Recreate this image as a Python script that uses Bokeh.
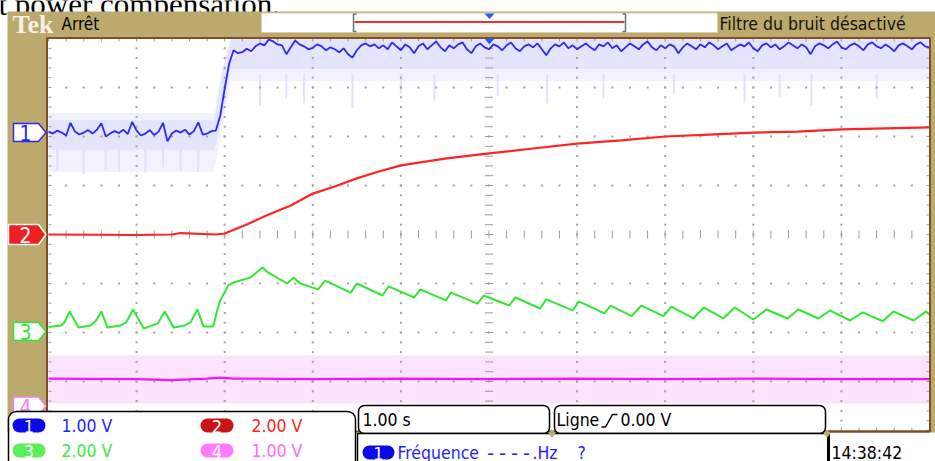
import numpy as np
from bokeh.plotting import figure
from bokeh.models import Range1d
from bokeh.core.properties import value
from bokeh.embed import file_html
from bokeh.resources import INLINE

# ---------------- values ----------------
channels = ["1", "2", "3", "4"]
volts_per_div = [1.0, 2.0, 2.0, 1.0]
offset_div = [2.08, 0.0, -2.0, -3.5]
scale_labels = ["1.00 V", "2.00 V", "2.00 V", "1.00 V"]
sec_per_div = 1.0
time_label = "1.00 s"
trigger_label = "0.00 V"
status_label = "Arrêt"
filter_label = "Filtre du bruit désactivé"
freq_label = "Fréquence"
freq_value = "----"
freq_unit = ".Hz"
clock_label = "14:38:42"
caption_label = "t power compensation."

# CH1 (blue), one reading every 0.05 s from -5 s to +5 s, volts
ch1_v = [
    0.02, -0.02, 0.04, 0.00, -0.06, 0.20, 0.02, -0.04, 0.00, 0.05, -0.02, 0.06, 0.19, -0.08, -0.02, 0.03, -0.01, 0.06, -0.03, 0.22,
    0.04, -0.06, -0.02, 0.05, -0.05, 0.02, 0.20, -0.18, -0.02, 0.04, 0.00, 0.06, -0.04, 0.03, 0.21, -0.04, -0.02, 0.03, 0.04, 0.35,
    0.90, 1.40, 1.68, 1.62, 1.64, 1.71, 1.66, 1.76, 1.82, 1.78, 1.90, 1.86, 1.80, 1.78, 1.60, 1.74, 1.88, 1.80, 1.76, 1.70,
    1.73, 1.80, 1.76, 1.68, 1.74, 1.70, 1.64, 1.72, 1.60, 1.53, 1.68, 1.78, 1.82, 1.76, 1.80, 1.72, 1.78, 1.70, 1.84, 1.76,
    1.68, 1.80, 1.74, 1.62, 1.76, 1.82, 1.70, 1.78, 1.86, 1.74, 1.66, 1.78, 1.72, 1.80, 1.84, 1.70, 1.62, 1.76, 1.82, 1.74,
    1.70, 1.80, 1.76, 1.68, 1.78, 1.84, 1.72, 1.66, 1.76, 1.80, 1.74, 1.82, 1.70, 1.58, 1.72, 1.80, 1.76, 1.84, 1.72, 1.78,
    1.70, 1.76, 1.82, 1.74, 1.68, 1.80, 1.76, 1.84, 1.72, 1.78, 1.66, 1.74, 1.82, 1.76, 1.70, 1.80, 1.86, 1.74, 1.68, 1.78,
    1.72, 1.80, 1.76, 1.62, 1.74, 1.82, 1.76, 1.70, 1.80, 1.74, 1.84, 1.78, 1.70, 1.76, 1.82, 1.68, 1.74, 1.80, 1.76, 1.84,
    1.72, 1.66, 1.78, 1.82, 1.74, 1.80, 1.70, 1.76, 1.84, 1.78, 1.72, 1.80, 1.74, 1.60, 1.76, 1.82, 1.78, 1.72, 1.80, 1.86,
    1.74, 1.70, 1.78, 1.82, 1.76, 1.68, 1.80, 1.84, 1.76, 1.72, 1.80, 1.74, 1.66, 1.78, 1.82, 1.76, 1.70, 1.80, 1.84, 1.76,
    1.74,
]
# CH1 persistence envelope (volts): a dense core and faint outer streaks
ch1_env_t = [-5.0, -3.12, -3.03, -2.93, 5.0]
ch1_env_lo = [-0.80, -0.80, 0.10, 1.05, 1.05]
ch1_env_hi = [0.40, 0.40, 1.30, 1.92, 1.92]
ch1_core_lo = [-0.35, -0.35, 0.30, 1.30, 1.30]
ch1_core_hi = [0.25, 0.25, 1.20, 1.92, 1.92]
ch1_spike_t = [-4.9, -4.6, -4.35, -4.2, -3.9, -3.7, -3.5, -3.3,
               -2.6, -2.3, -2.1, -1.55, -1.0, -0.62, 0.1, 0.66, 1.3, 2.1, 2.9, 3.3, 3.66, 4.4]
ch1_spike_lo = [-0.78, -0.85, -0.75, -0.80, -0.82, -0.70, -0.78, -0.80,
                0.55, 0.70, 0.60, 0.50, 0.80, 0.65, 0.75, 0.60, 0.70, 0.80, 0.60, 0.72, 0.55, 0.70]

# CH2 (red), volts
ch2_t = [-5.0, -4.0, -3.6, -3.5, -3.1, -3.0, -2.75, -2.5, -2.25, -2.0, -1.75, -1.5, -1.25, -1.0, -0.5, 0.0,
         0.5, 1.0, 1.5, 2.0, 2.5, 3.0, 3.5, 4.0, 4.5, 5.0]
ch2_v = [0.0, -0.02, 0.0, 0.06, 0.0, 0.04, 0.41, 0.82, 1.18, 1.67, 1.96, 2.29, 2.57, 2.82, 3.10, 3.31,
         3.51, 3.71, 3.84, 4.00, 4.08, 4.16, 4.20, 4.29, 4.33, 4.37]

# CH3 (green), volts at the turning points of the trace
ch3_t = [-5.00, -4.86, -4.82, -4.76, -4.66, -4.52, -4.46, -4.40, -4.33, -4.18, -4.12, -4.04, -3.92, -3.76, -3.68,
         -3.58, -3.45, -3.39, -3.31, -3.24, -3.13, -3.08, -3.05, -2.96, -2.90, -2.71, -2.57, -2.51, -2.29, -2.22,
         -2.14, -1.94, -1.86, -1.57, -1.50, -1.21, -1.14, -0.85, -0.78, -0.49, -0.43, -0.13, -0.06, 0.23, 0.30,
         0.58, 0.65, 0.95, 1.02, 1.31, 1.38, 1.62, 1.73, 1.98, 2.07, 2.32, 2.44, 2.66, 2.79, 3.00, 3.15, 3.39,
         3.51, 3.74, 3.87, 4.10, 4.24, 4.47, 4.59, 4.82, 4.96, 5.00]
ch3_v = [0.22, 0.29, 0.41, 0.86, 0.20, 0.29, 0.49, 0.86, 0.20, 0.29, 0.41, 0.94, 0.16, 0.37, 0.86,
         0.20, 0.29, 0.41, 0.94, 0.24, 0.24, 0.98, 1.31, 1.92, 2.04, 2.24, 2.65, 2.45, 2.00, 2.24,
         2.00, 1.76, 2.12, 1.63, 2.00, 1.51, 1.88, 1.43, 1.76, 1.31, 1.63, 1.18, 1.51, 1.10, 1.43,
         0.98, 1.35, 0.90, 1.27, 0.78, 1.10, 0.67, 1.10, 0.67, 1.06, 0.58, 1.02, 0.58, 1.02, 0.53, 0.94, 0.57,
         0.94, 0.57, 0.90, 0.49, 0.82, 0.46, 0.86, 0.49, 0.86, 0.73]

# CH4 (magenta), volts
ch4_t = [-5.0, -4.0, -3.6, -3.2, -3.05, -2.9, -2.0, -1.0, 0.0, 1.0, 2.0, 3.0, 4.0, 5.0]
ch4_v = [0.56, 0.55, 0.53, 0.56, 0.58, 0.56, 0.55, 0.56, 0.55, 0.56, 0.55, 0.56, 0.55, 0.55]
ch4_env_lo = 0.05
ch4_env_hi = 1.03

# ---------------- layout (pixels of the 935 x 461 screen) ----------------
W, H = 935, 461
GX0, GX1, GY0, GY1 = 48.0, 929.0, 38.0, 430.0
DX = (GX1 - GX0) / 10.0
DY = (GY1 - GY0) / 8.0
XC = (GX0 + GX1) / 2.0
YC = (GY0 + GY1) / 2.0


def X(px):
    return (px - XC) / DX * sec_per_div


def Y(py):
    return (YC - py) / DY


def to_div(ch, volts):
    return [offset_div[ch] + v / volts_per_div[ch] for v in volts]


TAN = "#BCA96C"
BROWN = "#7C4F24"
BLUE, RED, GREEN, PINK = "#2B2BF2", "#FF2424", "#33E633", "#F218F2"
UI_FONT = "DejaVu Sans Condensed"

p = figure(width=W, height=H, x_range=Range1d(X(0), X(W)), y_range=Range1d(Y(H), Y(0)),
           output_backend="svg", toolbar_location=None, min_border=0,
           x_axis_location=None, y_axis_location=None)
p.grid.visible = False
p.outline_line_color = None
p.background_fill_color = "white"
p.border_fill_color = "white"


def T(x, y, s, size=17, color="black", font=UI_FONT, align="left", baseline="middle", style="normal"):
    p.text(x=[X(x)], y=[Y(y)], text=[s], text_font=value(font), text_font_size=f"{size}px",
           text_color=color, text_align=align, text_baseline=baseline, text_font_style=style)


def Q(x0, y0, x1, y1, fill, line=None, lw=1.0, r=0):
    kw = {"border_radius": r} if r else {}
    p.quad(left=X(x0), right=X(x1), top=Y(y0), bottom=Y(y1), fill_color=fill,
           line_color=line, line_width=lw, **kw)


def P(pts, fill, line=None, lw=1.0):
    p.patch([X(a) for a, b in pts], [Y(b) for a, b in pts], fill_color=fill, line_color=line, line_width=lw)


def L(pts, color, lw=1.0):
    p.line([X(a) for a, b in pts], [Y(b) for a, b in pts], line_color=color, line_width=lw)


# ---- persistence envelopes ----
p.varea(x=ch1_env_t, y1=to_div(0, ch1_env_lo), y2=to_div(0, ch1_env_hi), fill_color="#F1F1FF")
p.segment(x0=ch1_spike_t, y0=to_div(0, ch1_spike_lo), x1=ch1_spike_t,
          y1=to_div(0, [0.0 if v < 0 else 1.2 for v in ch1_spike_lo]), line_color="#E0E0FF", line_width=2)
p.varea(x=ch1_env_t, y1=to_div(0, ch1_core_lo), y2=to_div(0, ch1_core_hi), fill_color="#E4E4FF")
p.varea(x=[-5.0, 5.0], y1=to_div(3, [ch4_env_lo] * 2), y2=to_div(3, [ch4_env_hi] * 2), fill_color="#FDE3FD")

# ---- graticule ----
minor = np.arange(-25, 26) * 0.2
minor_y = np.arange(-20, 21) * 0.2
dot_x, dot_y = [], []
for gx in range(-4, 5):
    if gx == 0:
        continue
    for v in minor_y[1:-1]:
        dot_x.append(gx * sec_per_div)
        dot_y.append(v)
for gy in range(-3, 4):
    if gy == 0:
        continue
    for v in minor[1:-1]:
        dot_x.append(v * sec_per_div)
        dot_y.append(gy)
p.scatter(dot_x, dot_y, marker="square", size=2, fill_color="#A4A4A4", line_color=None)
tk = 4.0 / DY
tkx = 4.0 / DX
p.segment(x0=list(minor[1:-1]), y0=[-tk] * 49, x1=list(minor[1:-1]), y1=[tk] * 49, line_color="#9A9A9A", line_width=1)
p.segment(x0=[-tkx] * 39, y0=list(minor_y[1:-1]), x1=[tkx] * 39, y1=list(minor_y[1:-1]), line_color="#9A9A9A", line_width=1)
e = 3.0 / DY
ex = 3.0 / DX
p.segment(x0=list(minor), y0=[4.0] * 51, x1=list(minor), y1=[4.0 - e] * 51, line_color="#9A9A9A")
p.segment(x0=list(minor), y0=[-4.0] * 51, x1=list(minor), y1=[-4.0 + e] * 51, line_color="#9A9A9A")
p.segment(x0=[-5.0] * 41, y0=list(minor_y), x1=[-5.0 + ex] * 41, y1=list(minor_y), line_color="#9A9A9A")
p.segment(x0=[5.0] * 41, y0=list(minor_y), x1=[5.0 - ex] * 41, y1=list(minor_y), line_color="#9A9A9A")

# ---- traces ----
ch1_t = list(np.linspace(-5.0, 5.0, len(ch1_v)))
p.line(ch4_t, to_div(3, ch4_v), line_color=PINK, line_width=2.2)
p.line(ch3_t, to_div(2, ch3_v), line_color=GREEN, line_width=2)
p.line(ch2_t, to_div(1, ch2_v), line_color=RED, line_width=2.2)
p.line(ch1_t, to_div(0, ch1_v), line_color=BLUE, line_width=1.8)

# ---- caption cut by the top of the screen ----
T(-2, 4, caption_label, size=31, font="Liberation Serif", baseline="alphabetic")

# ---- bezel ----
Q(7, 11, 935, 37.5, TAN)
Q(7, 37, 47, 432, TAN)
Q(929.5, 37, 935, 432, TAN)
Q(46.5, 37.5, 929.5, 431, None, BROWN, 2)

# title bar
Q(261, 12.5, 717, 32, "white", "#D9CFA2", 1)
L([(356, 13.5), (353, 13.5), (353, 31), (356, 31)], "#5E7878", 1.5)
L([(622, 13.5), (625, 13.5), (625, 31), (622, 31)], "#5E7878", 1.5)
L([(354, 21.5), (624, 21.5)], "#F03030", 2)
P([(484, 13), (494, 13), (489, 18.5)], "#2060F0")
P([(484, 38), (494, 38), (489, 44)], "#2060F0")
T(12, 23.5, "Tek", size=26, color="#F4F2E6", font="Liberation Serif", style="bold")
T(61, 23, status_label, size=17)
T(719, 23, filter_label, size=17.5, color="#141414")

# channel markers on the left edge
for ch, (yc, fill, edge, txt, x0) in enumerate([
        (132.0, "white", BLUE, BLUE, 13),
        (234.0, "#EE2020", "white", "white", 8),
        (331.0, "white", GREEN, GREEN, 13),
        (405.5, "white", "#F080F0", "#F080F0", 13)]):
    h = 10.0 if ch == 1 else 9.0
    P([(x0, yc - h), (38, yc - h), (45.5, yc), (38, yc + h), (x0, yc + h)], fill, edge, 1.5)
    T(25, yc + 0.5, channels[ch], size=21, color=txt, align="center")

# ---- readout panel ----
Q(8, 411, 355, 480, "white", "black", 1.5, 8)
Q(358, 405, 549, 433, "white", "black", 1.5, 6)
Q(554, 405, 825, 433, "white", "black", 1.5, 6)
Q(357, 433, 828, 480, "white", "black", 1.5)
L([(828, 433), (828, 461)], "black", 3)
L([(825, 431), (929, 431)], BROWN, 2)
P([(548, 433), (551.5, 429), (555, 433), (551.5, 437)], TAN)
P([(823, 433), (826.5, 429), (830, 433), (826.5, 437)], TAN)

pill_fill = ["#0A0AE6", "#C81414", "#5AEE5A", "#FF7AFF"]
val_col = ["#1E1EFF", "#FF1E1E", "#3EE83E", "#FF66FF"]
pos = [(12, 425, 61), (200, 425, 251), (12, 450, 61), (200, 450, 251)]
for ch in range(4):
    x0, yc, tx = pos[ch]
    Q(x0, yc - 7, x0 + 33, yc + 7, pill_fill[ch], None, 0, 7)
    T(x0 + 16.5, yc + 0.5, channels[ch], size=18, color="white", align="center")
    T(tx, yc, scale_labels[ch], size=17.5, color=val_col[ch])

T(362, 419, time_label, size=17.5)
T(556, 419, "Ligne", size=17.5)
L([(601, 426.5), (605, 426.5), (612, 414), (617, 414)], "black", 1.5)
T(620, 419, trigger_label, size=17.5)
Q(362, 445, 394, 459, "#0A0AE6", None, 0, 7)
T(378, 452.5, "1", size=18, color="white", align="center")
T(397, 452, freq_label, size=17.5, color="#1E1EFF")
T(484, 452, freq_value, size=20, color="#1E1EFF", font="DejaVu Sans Mono")
T(532, 452, freq_unit, size=17.5, color="#1E1EFF")
T(577, 452, "?", size=17.5, color="#1E1EFF")
T(831, 452, clock_label, size=17.5)

open("out.html", "w").write(file_html(p, INLINE))
